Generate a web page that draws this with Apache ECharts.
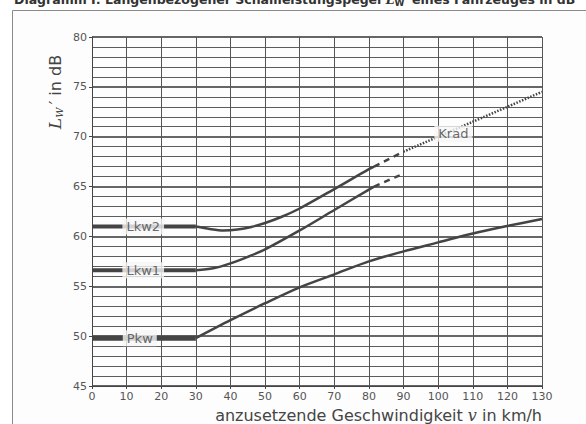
<!DOCTYPE html>
<html>
<head>
<meta charset="utf-8">
<script src="https://cdn.jsdelivr.net/npm/echarts@6/dist/echarts.min.js"></script>
<style>
  html, body { margin: 0; padding: 0; background: #fff; }
  #chart { width: 586px; height: 424px; }
</style>
</head>
<body>
<div id="chart"></div>
<script>
// speed (km/h) vs. L_W' (dB)
const pkwFlat = [[0, 49.8], [30, 49.8]];
const pkwCurve = [[30, 49.8], [40, 51.6], [50, 53.3], [60, 54.9], [70, 56.2], [80, 57.5], [90, 58.5], [100, 59.4], [110, 60.3], [120, 61.05], [130, 61.75]];
const lkw1Flat = [[0, 56.6], [30, 56.6]];
const lkw1Curve = [[30, 56.6], [35, 56.8], [40, 57.3], [45, 57.95], [50, 58.7], [60, 60.6], [70, 62.65], [80, 64.7], [81.5, 65.0]];
const lkw1Dash = [[81.5, 65.0], [90, 66.3]];
const lkw2Flat = [[0, 61.0], [30, 61.0]];
const lkw2Curve = [[30, 61.0], [34, 60.75], [38, 60.6], [42, 60.7], [46, 60.95], [50, 61.35], [55, 62.0], [60, 62.8], [70, 64.75], [80, 66.75], [81.5, 67.0]];
const lkw2Dash = [[81.5, 67.0], [90, 68.5]];
const kradDot = [[90, 68.5], [100, 70.0], [110, 71.5], [120, 73.0], [130, 74.5]];
const labelNames = ['Lkw2', 'Lkw1', 'Pkw', 'Krad'];
const labelPos = [[14.8, 61.0], [14.8, 56.6], [13.8, 49.8], [104.4, 70.3]];

const ink = '#444';
const chart = echarts.init(document.getElementById('chart'), null, { renderer: 'svg' });

function line(data, width, type) {
  return {
    type: 'line', data: data, symbol: 'none', smooth: data.length > 2 ? 0.3 : false, z: 3,
    lineStyle: { color: ink, width: width, type: type || 'solid', cap: 'butt' }
  };
}

const option = {
  backgroundColor: '#fff',
  animation: false,
  textStyle: { fontFamily: 'DejaVu Sans' },
  grid: { left: 92, top: 37, width: 450, height: 349, containLabel: false },
  xAxis: {
    type: 'value', min: 0, max: 130, interval: 10,
    axisLine: { show: true, lineStyle: { color: '#444', width: 1 } },
    axisTick: { show: true, length: 3, lineStyle: { color: '#444' } },
    axisLabel: { color: '#555', fontSize: 11, margin: 5 },
    splitLine: { show: true, lineStyle: { color: '#555', width: 1 } }
  },
  yAxis: {
    type: 'value', min: 45, max: 80, interval: 5,
    axisLine: { show: true, lineStyle: { color: '#444', width: 1 } },
    axisTick: { show: true, length: 3, lineStyle: { color: '#444' } },
    axisLabel: { color: '#555', fontSize: 11, margin: 5 },
    splitLine: { show: true, lineStyle: { color: '#333', width: 1.6 } },
    minorTick: { show: false, splitNumber: 5 },
    minorSplitLine: { show: true, lineStyle: { color: '#5c5c5c', width: 1 } }
  },
  series: [
    line(pkwFlat, 5),
    line(pkwCurve, 2.5),
    line(lkw1Flat, 4),
    line(lkw1Curve, 2.5),
    line(lkw1Dash, 2.5, [6, 5]),
    line(lkw2Flat, 4),
    line(lkw2Curve, 2.5),
    line(lkw2Dash, 2.5, [6, 5]),
    line(kradDot, 2.5, [1.5, 1.5]),
    {
      type: 'scatter', symbolSize: 0, z: 10,
      data: labelPos.map((p, i) => [p[0], p[1], labelNames[i]]),
      label: {
        show: true, position: 'inside', formatter: p => p.value[2],
        color: '#444', fontSize: 13, fontFamily: 'DejaVu Sans',
        backgroundColor: '#f6f6f6', padding: [2, 4, 1, 4]
      }
    }
  ],
  graphic: [
    {
      type: 'rect', z: -1, silent: true,
      shape: { x: 12.5, y: 10.5, width: 600, height: 440 },
      style: { fill: '#fdfdfd', stroke: '#8a8a8a', lineWidth: 1 }
    },
    {
      type: 'text', x: 14, y: -8, silent: true,
      style: {
        text: 'Diagramm I: Längenbezogener Schallleistungspegel {it|L}{sub|W}\u2032 eines Fahrzeuges in dB',
        font: 'bold 12.5px "DejaVu Sans"', fill: '#333',
        rich: {
          it: { font: 'italic bold 12.5px "DejaVu Serif"', fill: '#333' },
          sub: { font: 'bold 9px "DejaVu Sans"', fill: '#333', padding: [6, 0, 0, 0] }
        }
      }
    },
    {
      type: 'text', x: 542, y: 407, silent: true,
      style: {
        text: 'anzusetzende Geschwindigkeit {v|v} in km/h',
        font: '16px "DejaVu Sans"', fill: '#444', align: 'right',
        rich: { v: { font: 'italic 16px "DejaVu Serif"', fill: '#444' } }
      }
    },
    {
      type: 'text', x: 55, y: 92, rotation: Math.PI / 2, silent: true,
      style: {
        text: '{l|L}{s|W}{p|\u2009\u2032 in dB}',
        align: 'center', verticalAlign: 'middle', fill: '#444',
        rich: {
          l: { font: 'italic 17px "DejaVu Serif"', fill: '#444' },
          s: { font: 'italic 10px "DejaVu Serif"', fill: '#444', padding: [9, 0, 0, 0] },
          p: { font: '16px "DejaVu Sans"', fill: '#444' }
        }
      }
    }
  ]
};
chart.setOption(option);
</script>
</body>
</html>
